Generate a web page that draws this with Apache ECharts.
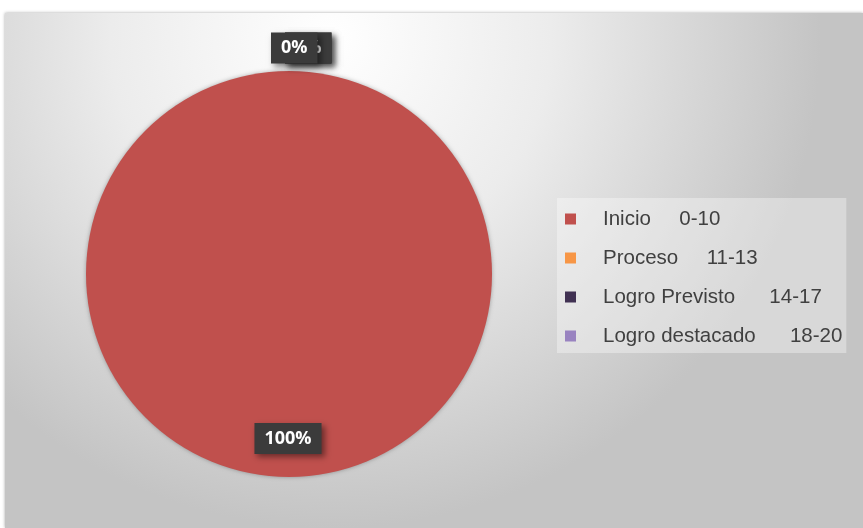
<!DOCTYPE html>
<html>
<head>
<meta charset="utf-8">
<script src="https://cdn.jsdelivr.net/npm/echarts@6/dist/echarts.min.js"></script>
<style>
html,body{margin:0;padding:0;background:#fff;}
#c{width:863px;height:528px;}
</style>
</head>
<body>
<div id="c"></div>
<script>
var categories = ['Inicio     0-10', 'Proceso     11-13', 'Logro Previsto      14-17', 'Logro destacado      18-20'];
var values = [100, 0, 0, 0];
var colors = ['#C0504D', '#F79646', '#403152', '#9983C0'];

var chart = echarts.init(document.getElementById('c'), null, {renderer: 'canvas'});

var labelBox = {
  color: '#ffffff',
  fontFamily: 'Open Sans',
  fontWeight: 'bold',
  fontSize: 18,
  backgroundColor: '#3b3b3b',
  padding: [7, 10, 6, 10],
  shadowBlur: 6,
  shadowColor: 'rgba(0,0,0,0.45)',
  shadowOffsetX: 3,
  shadowOffsetY: 3,
  formatter: '{d}%'
};

var data = categories.map(function (name, i) {
  var item = {name: name, value: values[i], itemStyle: {color: colors[i]}};
  if (values[i] > 0) {
    item.label = Object.assign({}, labelBox, {position: 'inside'});
  } else {
    item.label = Object.assign({}, labelBox, {position: 'outside'});
    item.labelLine = {show: false};
  }
  return item;
});

chart.setOption({
  animation: false,
  graphic: [{
    type: 'rect',
    z: -10,
    silent: true,
    shape: {x: 5, y: 13, width: 858, height: 515},
    style: {
      fill: new echarts.graphic.RadialGradient(0.38, 0.05, 0.95, [
        {offset: 0, color: '#ffffff'},
        {offset: 0.45, color: '#ececec'},
        {offset: 1, color: '#c4c4c4'}
      ]),
      shadowBlur: 3,
      shadowColor: 'rgba(0,0,0,0.35)'
    }
  }],
  legend: {
    orient: 'vertical',
    left: 557,
    top: 198,
    backgroundColor: 'rgba(255,255,255,0.35)',
    padding: [10, 4, 6, 8],
    itemGap: 17,
    itemWidth: 11,
    itemHeight: 11,
    icon: 'rect',
    data: categories,
    textStyle: {
      fontFamily: 'Liberation Sans',
      fontSize: 20.5,
      lineHeight: 22,
      color: '#404040',
      padding: [0, 0, 0, 22]
    }
  },
  series: [{
    type: 'pie',
    center: [289, 274],
    radius: 203,
    startAngle: 90,
    clockwise: true,
    avoidLabelOverlap: false,
    stillShowZeroSum: true,
    itemStyle: {shadowBlur: 4, shadowColor: 'rgba(0,0,0,0.3)'},
    labelLine: {show: false, length: 8, length2: 0},
    labelLayout: function (p) {
      if (p.dataIndex === 0) return {dx: -1, dy: 60};
      if (p.dataIndex === 3) return {dx: -23, dy: -15};
      return {dx: -9, dy: -15};
    },
    data: data
  }]
});
</script>
</body>
</html>
